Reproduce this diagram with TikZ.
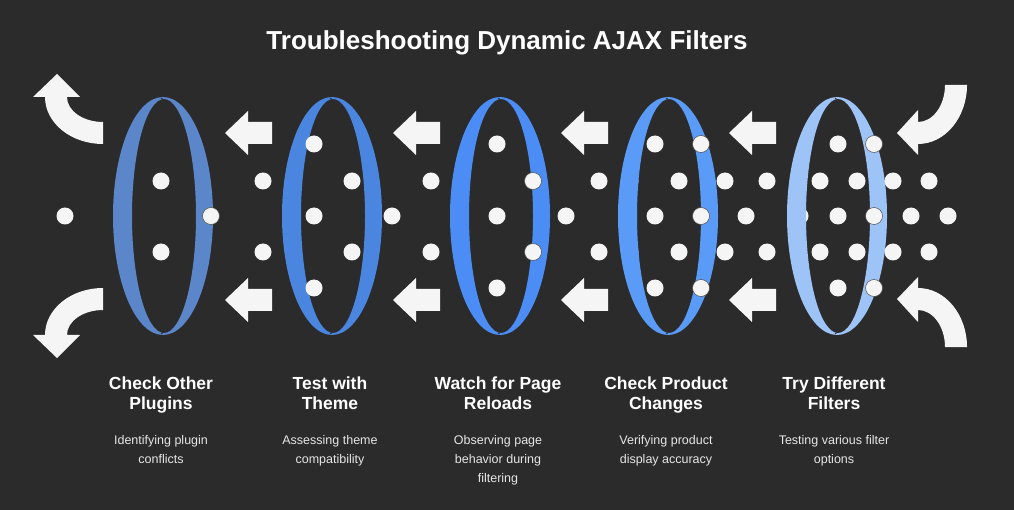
\documentclass[tikz,border=0pt]{standalone}
\usepackage{fontspec}
\setmainfont{Liberation Sans}
\begin{document}
\begin{tikzpicture}[x=1pt,y=-1pt,
  dot/.style={fill=dotc},
  odot/.style={fill=dotc,draw=black!70,line width=0.5pt},
  arw/.style={fill=dotc},
  ttl/.style={text=white,font=\bfseries\fontsize{17.5}{20.5}\selectfont,align=center},
  dsc/.style={text=descc,font=\fontsize{12.5}{19}\selectfont,align=center}]
\definecolor{bg}{HTML}{2B2B2B}
\definecolor{dotc}{HTML}{F5F5F5}
\definecolor{descc}{HTML}{E6E6E6}
\definecolor{ra}{HTML}{5B86C9}
\definecolor{rb}{HTML}{4A86E0}
\definecolor{rc}{HTML}{4C8DF5}
\definecolor{rd}{HTML}{5A9BF8}
\definecolor{re}{HTML}{9EC3F7}
\fill[bg] (0,0) rectangle (1014,510);
\useasboundingbox (0,0) rectangle (1014,510);
\node[text=white,font=\bfseries\fontsize{26}{30}\selectfont] (title) at (507,43) {Troubleshooting Dynamic AJAX Filters};
% hidden dots
\foreach \p in {(630,181),(630,252),(800,216)} \fill[dotc] \p circle (8.5);
% rings
\foreach \cx/\c in {163/ra,332/rb,500/rc,668/rd,837/re}{
  \fill[\c,even odd rule] (\cx,216) ellipse [x radius=50,y radius=119]
     (\cx+1,216) ellipse [x radius=32,y radius=117];
  \draw[bg,line width=0.8pt] (\cx-2,98) -- (\cx+6,104);
  \draw[bg,line width=0.8pt] (\cx-2,334) -- (\cx+6,328);
}
% dots
\foreach \p in {(65,216),(161,181),(161,252),(263,181),(263,252),
 (314,144),(352,181),(314,216),(352,252),(314,288),(392,216),
 (431,181),(431,252),(497,144),(497,216),(497,288),(566,216),
 (599,181),(599,252),(655,144),(679,181),(655,216),(679,252),(655,288),
 (746,216),(725,181),(767,181),(725,252),(767,252),
 (820,181),(838,144),(857,181),(838,216),(911,216),(948,216),(820,252),(857,252),
 (893,181),(929,181),(893,252),(929,252),(838,288)}
 \fill[dotc] \p circle (8.5);
\foreach \p in {(211,216),(533,181),(533,252),(701,144),(701,216),(701,288),(874,144),(874,216),(874,288)}
 \draw[odot] \p circle (8.5);
% straight arrows
\foreach \tx in {225,393,561,729}{
  \foreach \ay in {133,300}{
   \fill[dotc] (\tx,\ay) -- (\tx+23,\ay-22) -- (\tx+23,\ay-11) -- (\tx+47,\ay-11)
     -- (\tx+47,\ay+11) -- (\tx+23,\ay+11) -- (\tx+23,\ay+22) -- cycle;}}
% curved left arrows
\fill[dotc] (103,122) -- (103,144) arc[start angle=90,end angle=180,x radius=58,y radius=47]
 -- (33,97) -- (57,74) -- (80,97) -- (67,97)
 arc[start angle=180,end angle=90,x radius=36,y radius=25] -- cycle;
\fill[dotc] (103,310) -- (103,288) arc[start angle=-90,end angle=-180,x radius=58,y radius=47]
 -- (33,335) -- (57,358) -- (80,335) -- (67,335)
 arc[start angle=-180,end angle=-90,x radius=36,y radius=25] -- cycle;
% curved right arrows
\fill[dotc] (945,85) -- (967,85) arc[start angle=0,end angle=90,x radius=49,y radius=59]
 -- (918,155) -- (897,133) -- (918,110) -- (918,122)
 arc[start angle=90,end angle=0,x radius=27,y radius=37] -- cycle;
\fill[dotc] (945,347) -- (967,347) arc[start angle=0,end angle=-90,x radius=49,y radius=59]
 -- (918,277) -- (897,299) -- (918,322) -- (918,310)
 arc[start angle=-90,end angle=0,x radius=27,y radius=37] -- cycle;
% labels
\node[ttl,anchor=north] (t1) at (161,373) {Check Other\\Plugins};
\node[ttl,anchor=north] (t2) at (330,373) {Test with\\Theme};
\node[ttl,anchor=north] (t3) at (498,373) {Watch for Page\\Reloads};
\node[ttl,anchor=north] (t4) at (666,373) {Check Product\\Changes};
\node[ttl,anchor=north] (t5) at (834,373) {Try Different\\Filters};
\node[dsc,anchor=north] (d1) at (161,432) {Identifying plugin\\conflicts};
\node[dsc,anchor=north] (d2) at (330,432) {Assessing theme\\compatibility};
\node[dsc,anchor=north] (d3) at (498,432) {Observing page\\behavior during\\filtering};
\node[dsc,anchor=north] (d4) at (666,432) {Verifying product\\display accuracy};
\node[dsc,anchor=north] (d5) at (834,432) {Testing various filter\\options};
\end{tikzpicture}
\end{document}
